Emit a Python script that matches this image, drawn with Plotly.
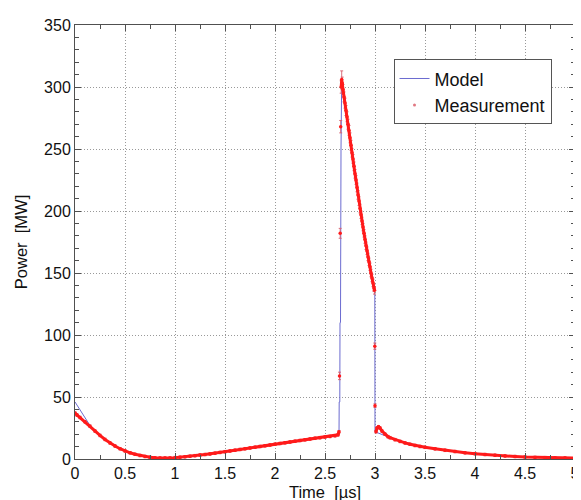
import plotly.graph_objects as go

# Measurement (time in µs, power in MW); None separates dense runs from isolated samples
meas_t = [0.00, 0.02, 0.05, 0.10, 0.15, 0.20, 0.25, 0.30, 0.35, 0.40, 0.45, 0.50,
          0.55, 0.60, 0.65, 0.70, 0.75, 0.80, 0.85, 0.90, 0.95, 1.00, 1.05, 1.10,
          1.15, 1.20, 1.25, 1.30, 1.35, 1.40, 1.45, 1.50, 1.55, 1.60, 1.65, 1.70,
          1.75, 1.80, 1.85, 1.90, 1.95, 2.00, 2.05, 2.10, 2.15, 2.20, 2.25, 2.30,
          2.35, 2.40, 2.45, 2.50, 2.55, 2.60, 2.63, 2.64, None,
          2.645, None, 2.652, None, 2.657, None,
          2.662, 2.667, 2.672, 2.68, 2.69, 2.70, 2.71, 2.72, 2.73,
          2.74, 2.75, 2.76, 2.77, 2.78, 2.79, 2.80, 2.81, 2.82, 2.83, 2.84, 2.85,
          2.86, 2.87, 2.88, 2.89, 2.90, 2.91, 2.92, 2.93, 2.94, 2.95, 2.96, 2.97,
          2.98, 2.99, 2.995, None, 2.998, None, 3.0, None,
          3.01, 3.02, 3.035, 3.05, 3.07, 3.10, 3.13, 3.15, 3.20, 3.25, 3.30, 3.35,
          3.40, 3.45, 3.50, 3.60, 3.70, 3.80, 3.90, 4.00, 4.10, 4.20, 4.30, 4.40,
          4.50, 4.60, 4.70, 4.80, 4.90, 5.00]
meas_p = [37.0, 35.5, 33.5, 30.0, 26.5, 22.5, 19.0, 15.8, 13.0, 10.5, 8.3, 6.5,
          5.0, 3.8, 2.8, 2.0, 1.4, 1.0, 0.8, 0.8, 0.9, 1.1, 1.4, 1.8,
          2.2, 2.7, 3.2, 3.6, 4.1, 4.7, 5.3, 5.9, 6.5, 7.1, 7.7, 8.3,
          8.9, 9.5, 10.1, 10.7, 11.3, 11.9, 12.5, 13.1, 13.7, 14.3, 14.9, 15.5,
          16.1, 16.7, 17.2, 17.7, 18.2, 18.7, 19.5, 22.0, None,
          67.0, None, 182.0, None, 268.0, None,
          300.0, 306.0, 303.0, 298.0, 292.0, 287.0, 281.0, 276.0, 270.0,
          265.0, 259.0, 253.0, 247.0, 242.0, 236.0, 230.0, 225.0, 219.0, 213.0, 208.0, 202.0,
          197.0, 192.0, 187.0, 182.0, 177.0, 172.0, 168.0, 163.0, 159.0, 155.0, 150.0, 146.0,
          142.0, 138.0, 136.0, None, 91.0, None, 43.0, None,
          22.0, 25.0, 26.0, 25.0, 22.5, 20.0, 18.0, 17.2, 15.6, 14.2, 13.0, 11.9,
          10.9, 10.1, 9.4, 8.2, 7.0, 6.0, 5.0, 4.3, 3.6, 3.0, 2.5, 2.0,
          1.6, 1.3, 1.1, 0.9, 0.8, 0.7]
meas_err = ([1.0] * 56 + [0] +
            [3.0, 0, 4.0, 0, 5.0, 0] +
            [5.0, 7.0, 5.0, 4.0, 4.0, 4.0, 4.0, 4.0, 4.0,
             4.0, 4.0, 4.0, 3.5, 3.5, 3.5, 3.5, 3.5, 3.5, 3.5, 3.5, 3.5,
             3.0, 3.0, 3.0, 3.0, 3.0, 3.0, 3.0, 3.0, 3.0, 3.0, 3.0, 3.0,
             3.0, 3.0, 3.0, 0, 2.5, 0, 1.5, 0] +
            [1.0] * 30)

# Model
model_t = [0.00, 0.05, 0.10, 0.15, 0.20, 0.30, 0.40, 0.50, 0.60, 0.70, 0.80, 0.90,
           1.00, 1.20, 1.40, 1.60, 1.80, 2.00, 2.20, 2.40, 2.60, 2.640,
           2.642, 2.648, 2.650, 2.655, 2.660, 2.667, 2.68, 2.74, 2.86, 2.96, 2.998,
           3.000, 3.13, 3.20, 3.50, 4.00, 4.50, 5.00]
model_p = [46.0, 40.0, 33.0, 27.0, 22.5, 15.8, 10.5, 6.5, 3.8, 2.0, 1.0, 0.8,
           1.1, 2.7, 4.7, 7.1, 9.5, 11.9, 14.3, 16.7, 18.7, 19.5,
           46.0, 46.0, 110.0, 110.0, 250.0, 306.0, 298.0, 265.0, 197.0, 150.0, 133.0,
           22.0, 18.0, 15.6, 9.4, 4.3, 1.6, 0.7]

x_ticks = [0, 0.5, 1, 1.5, 2, 2.5, 3, 3.5, 4, 4.5, 5]
x_tick_text = ["0", "0.5", "1", "1.5", "2", "2.5", "3", "3.5", "4", "4.5", "5"]
y_ticks = [0, 50, 100, 150, 200, 250, 300, 350]

RED = "#ff1a1a"
ERR = "rgba(215,95,110,0.9)"
BLUE = "#6b6bd0"
FONT = "Liberation Sans, Arial, sans-serif"

fig = go.Figure()
fig.add_trace(go.Scatter(
    x=model_t, y=model_p, mode="lines", name="Model",
    line=dict(color=BLUE, width=1),
))
fig.add_trace(go.Scatter(
    x=meas_t, y=meas_p, mode="lines+markers", showlegend=False,
    connectgaps=False,
    line=dict(color=RED, width=3),
    marker=dict(color=RED, size=3.5, symbol="circle"),
    error_y=dict(type="data", array=meas_err, color=ERR, thickness=1, width=1.5),
))
fig.add_trace(go.Scatter(
    x=[None], y=[None], mode="markers", name="Measurement",
    marker=dict(color="rgba(225,120,130,1)", size=3),
))

axis_common = dict(
    showline=True, linecolor="#505050", linewidth=1, mirror="ticks",
    ticks="inside", ticklen=6, tickcolor="#505050",
    showgrid=True, gridcolor="#999999", griddash="1px,2px", gridwidth=1,
    zeroline=False,
    tickfont=dict(family=FONT, size=16, color="#111111"),
    minor=dict(ticks="inside", ticklen=4, tickcolor="#505050", showgrid=False),
)

fig.update_layout(
    width=581, height=500,
    margin=dict(l=67, r=9, t=12, b=47),
    paper_bgcolor="white", plot_bgcolor="white",
    font=dict(family=FONT, size=16, color="#111111"),
    xaxis=dict(range=[0, 5], tickvals=x_ticks, ticktext=x_tick_text,
               title=dict(text="Time  [µs]", standoff=5, font=dict(size=16.5)),
               **axis_common),
    yaxis=dict(range=[0, 350], tickvals=y_ticks,
               title=dict(text="Power  [MW]", standoff=12, font=dict(size=16.5)),
               **axis_common),
    legend=dict(x=0.953, y=0.921, xanchor="right", yanchor="top",
                bgcolor="white", bordercolor="#555555", borderwidth=1,
                font=dict(family=FONT, size=18), tracegroupgap=0, itemwidth=30),
)
fig.update_xaxes(minor=dict(dtick=0.25, tick0=0))
fig.update_yaxes(minor=dict(dtick=10, tick0=0))

fig.write_html("out.html")
